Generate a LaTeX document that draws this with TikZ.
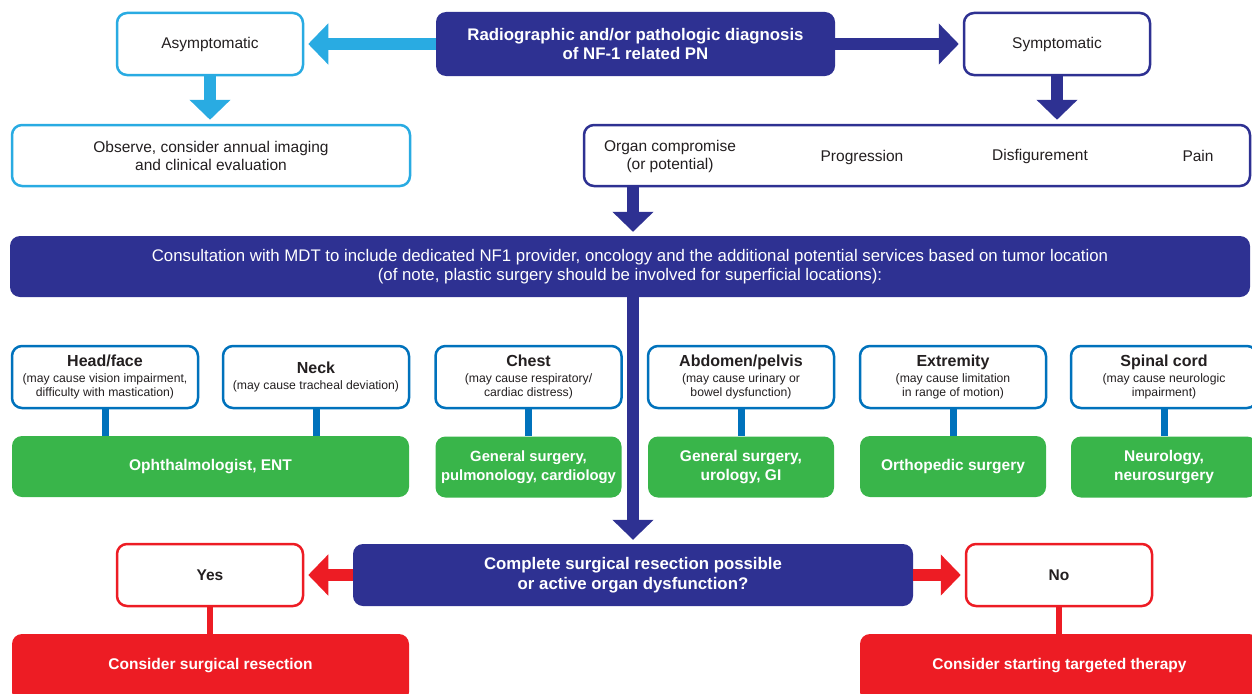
\documentclass[tikz,border=0pt]{standalone}
\usepackage{fontspec}
\setmainfont{Liberation Sans}
\usetikzlibrary{arrows.meta,calc}
\definecolor{dkblue}{HTML}{2E3192}
\definecolor{ltblue}{HTML}{29ABE2}
\definecolor{mdblue}{HTML}{0072BC}
\definecolor{grn}{HTML}{39B54A}
\definecolor{rd}{HTML}{ED1C24}
\definecolor{txt}{HTML}{231F20}
\begin{document}
\begin{tikzpicture}[x=1pt,y=-1pt,
  wbox/.style={draw, rounded corners=10pt, line width=2.5pt, fill=white, inner sep=0pt, align=center, text=txt, font=\fontsize{15.5}{18}\selectfont},
  fbox/.style={rounded corners=10pt, inner sep=0pt, align=center, text=white, font=\bfseries\fontsize{16.8}{19.5}\selectfont},
  locbox/.style={wbox, draw=mdblue, minimum width=186pt, minimum height=62pt, font=\fontsize{12.2}{14}\selectfont},
  gbox/.style={fbox, fill=grn, minimum height=61pt, font=\bfseries\fontsize{15.5}{18.5}\selectfont},
  plain/.style={inner sep=0pt, align=center, text=txt, font=\fontsize{15.5}{18}\selectfont},
  fat/.style={line width=12pt, -{Triangle[width=40pt,length=20pt]}, shorten >=4pt},
  conn/.style={line width=7pt, mdblue},
  rconn/.style={line width=6pt, rd}
]
\useasboundingbox (0,0) rectangle (1252,693);
\clip (0,0) rectangle (1252,693);

% top row
\node[fbox, fill=dkblue, minimum width=399pt, minimum height=64pt] (diag) at (635.5,44) {Radiographic and/or pathologic diagnosis\\of NF-1 related PN};
\node[wbox, draw=ltblue, minimum width=186pt, minimum height=62pt] (asym) at (210,44) {Asymptomatic};
\node[wbox, draw=dkblue, minimum width=186pt, minimum height=62pt] (sym) at (1057,44) {Symptomatic};

% second row
\node[wbox, draw=ltblue, minimum width=398pt, minimum height=61pt] (obs) at (211,155.5) {Observe, consider annual imaging\\and clinical evaluation};
\node[wbox, draw=dkblue, minimum width=666pt, minimum height=61pt] (crit) at (917,155.5) {};
\node[plain] (organ) at (670,156) {Organ compromise\\(or potential)};
\node[plain] (prog) at (862,157) {Progression};
\node[plain] (disf) at (1040,156) {Disfigurement};
\node[plain] (pain) at (1198,156) {Pain};

% MDT
\node[fbox, fill=dkblue, minimum width=1240pt, minimum height=61pt, font=\fontsize{16.8}{19}\selectfont] (mdt) at (630,266.5) {Consultation with MDT to include dedicated NF1 provider, oncology and the additional potential services based on tumor location\\(of note, plastic surgery should be involved for superficial locations):};

% decision
\node[fbox, fill=dkblue, minimum width=560pt, minimum height=62pt, font=\bfseries\fontsize{16.8}{20}\selectfont] (dec) at (633,575) {Complete surgical resection possible\\or active organ dysfunction?};

% locations
\node[locbox] (head) at (105,377) {{\bfseries\fontsize{16}{16}\selectfont Head/face}\\[2pt](may cause vision impairment,\\difficulty with mastication)};
\node[locbox] (neck) at (316,377) {{\bfseries\fontsize{16}{16}\selectfont Neck}\\[2pt](may cause tracheal deviation)};
\node[locbox] (chest) at (528.5,377) {{\bfseries\fontsize{16}{16}\selectfont Chest}\\[2pt](may cause respiratory/\\cardiac distress)};
\node[locbox] (abd) at (741,377) {{\bfseries\fontsize{16}{16}\selectfont Abdomen/pelvis}\\[2pt](may cause urinary or\\bowel dysfunction)};
\node[locbox] (ext) at (953,377) {{\bfseries\fontsize{16}{16}\selectfont Extremity}\\[2pt](may cause limitation\\in range of motion)};
\node[locbox] (spine) at (1164,377) {{\bfseries\fontsize{16}{16}\selectfont Spinal cord}\\[2pt](may cause neurologic\\impairment)};

% specialties
\node[gbox, minimum width=397pt] (ent) at (210.5,466.5) {Ophthalmologist, ENT};
\node[gbox, minimum width=186pt, font=\bfseries\fontsize{14.8}{18.5}\selectfont] (gchest) at (528.5,467) {General surgery,\\pulmonology, cardiology};
\node[gbox, minimum width=186pt] (gabd) at (741,467) {General surgery,\\urology, GI};
\node[gbox, minimum width=186pt] (gext) at (953,466.5) {Orthopedic surgery};
\node[gbox, minimum width=186pt] (gspine) at (1164,467) {Neurology,\\neurosurgery};

% yes / no
\node[wbox, draw=rd, minimum width=186pt, minimum height=62pt, font=\bfseries\fontsize{15.5}{18}\selectfont] (yes) at (210,575) {Yes};
\node[wbox, draw=rd, minimum width=186pt, minimum height=62pt, font=\bfseries\fontsize{15.5}{18}\selectfont] (no) at (1059,575) {No};
\node[fbox, fill=rd, minimum width=397pt, minimum height=68pt, label={[yshift=2pt, text=white, font=\bfseries\fontsize{15.5}{18}\selectfont]center:Consider surgical resection}] (surg) at (210.5,668) {};
\node[fbox, fill=rd, minimum width=399pt, minimum height=68pt, label={[yshift=2pt, text=white, font=\bfseries\fontsize{15.5}{18}\selectfont]center:Consider starting targeted therapy}] (ther) at (1059.5,668) {};

% arrows
\draw[fat, ltblue] (diag.west) -- (asym.east);
\draw[fat, dkblue] (diag.east) -- (sym.west);
\draw[fat, ltblue] (asym.south) -- (asym.south |- obs.north);
\draw[fat, dkblue] (sym.south) -- (sym.south |- crit.north);
\draw[fat, dkblue] (crit.south -| dec.north) -- (mdt.north -| dec.north);
\draw[fat, dkblue] (mdt.south -| dec.north) -- (dec.north);
\draw[fat, rd] (dec.west) -- (yes.east);
\draw[fat, rd] (dec.east) -- (no.west);

% connectors
\draw[conn] (head.south) -- (head.south |- ent.north);
\draw[conn] (neck.south) -- (neck.south |- ent.north);
\draw[conn] (chest.south) -- (gchest.north);
\draw[conn] (abd.south) -- (gabd.north);
\draw[conn] (ext.south) -- (gext.north);
\draw[conn] (spine.south) -- (gspine.north);
\draw[rconn] (yes.south) -- (yes.south |- surg.north);
\draw[rconn] (no.south) -- (no.south |- ther.north);
\end{tikzpicture}
\end{document}
